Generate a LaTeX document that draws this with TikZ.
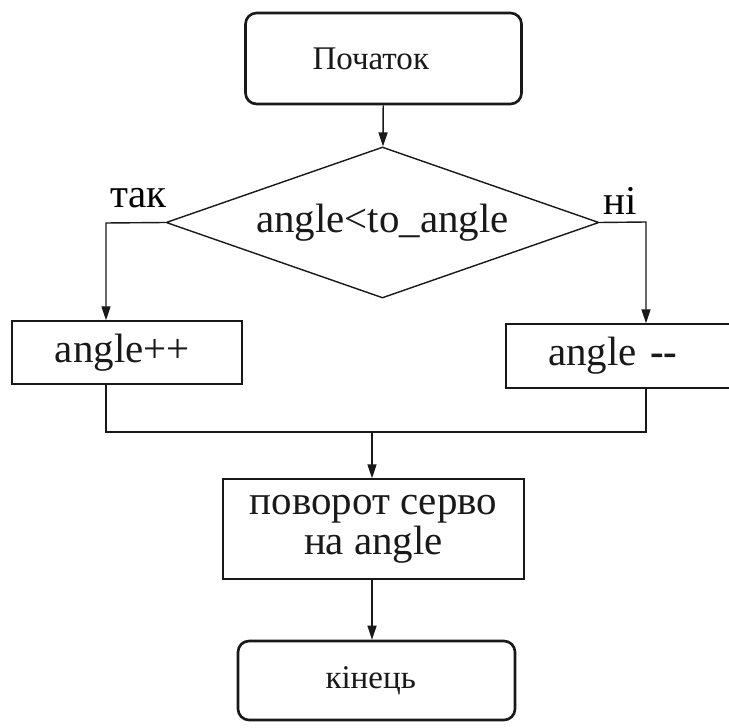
\documentclass[tikz,border=0pt]{standalone}
\usepackage{fontspec}
\setmainfont{Liberation Serif}
\usepackage{tikz}
\usetikzlibrary{arrows.meta,positioning,shapes.geometric}
\newcommand{\bigtxt}{\fontsize{23.3}{22.7}\selectfont}
\newcommand{\smalltxt}{\fontsize{18.8}{20}\selectfont}
\tikzset{
  flowln/.style={line width=0.8pt, black!90},
  flowarr/.style={flowln, -{Triangle[length=2.8mm,width=1.8mm]}},
  termbox/.style={draw, black!90, rounded corners=0.22cm, line width=1.5pt, font=\smalltxt, inner ysep=0pt},
  procbox/.style={draw, black!90, line width=0.8pt, font=\bigtxt, inner ysep=0pt},
  condbox/.style={diamond, draw, black!90, line width=0.8pt, font=\bigtxt, inner sep=1pt, shape aspect=2.87},
}

\begin{document}
\begin{tikzpicture}
    \path[use as bounding box, clip] (0,0) rectangle (14.58,-14.56);
    \fill[white] (0,0) rectangle (14.58,-14.56);
    % start
    \node[termbox, align=left, text width=2.84cm, inner xsep=1.34cm, minimum height=1.82cm] (start) at (7.67,-1.17) {Початок};
    % condition
    \node[condbox, minimum width=8.66cm, minimum height=3.02cm] (cond) at (7.65,-4.45) {angle<to\_angle};
    \node[font=\bigtxt, anchor=base] (yes) at (2.77,-4.16) {так};
    \node[font=\bigtxt, anchor=base] (no) at (12.41,-4.30) {ні};
    % the two branches
    \node[procbox, align=left, text width=2.88cm, inner xsep=0.86cm, minimum height=1.26cm] (inc) at (2.54,-7.05) {angle++};
    \node[procbox, align=left, text width=3.96cm, inner xsep=0.84cm, minimum height=1.28cm] (dec) at (12.94,-7.12) {angle {\bfseries -\kern0pt-}};
    % servo turn
    \node[procbox, align=center, minimum width=6.02cm, minimum height=2.0cm] (servo) at (7.47,-10.58) {поворот серво\\на angle};
    % end
    \node[termbox, align=left, text width=2.04cm, inner xsep=1.75cm, minimum height=1.58cm] (stop) at (7.53,-13.61) {кінець};

    \coordinate (yesturn) at (2.12,-4.46);
    \coordinate (noturn) at (12.92,-4.44);
    \coordinate (join) at (7.44,-8.64);

    \draw[flowarr] (start) -- (cond);
    \draw[flowarr] (cond.west) -- (yesturn) -- (yesturn |- inc.north);
    \draw[flowarr] (cond.east) -- (noturn) -- (noturn |- dec.north);
    \draw[flowln] (yesturn |- inc.south) -- (yesturn |- join) -- (noturn |- join) -- (noturn |- dec.south);
    \draw[flowarr] (join) -- (join |- servo.north);
    \draw[flowarr] (servo.south -| join) -- (join |- stop.north);
  \end{tikzpicture}
\end{document}
